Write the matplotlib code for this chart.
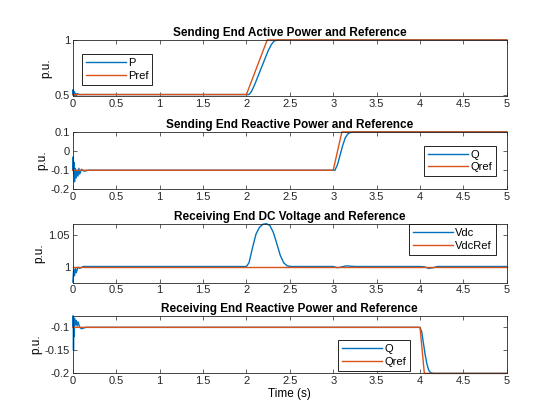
import matplotlib
matplotlib.use("Agg")
import matplotlib.pyplot as plt

BLUE = '#0072BD'
ORANGE = '#D95319'

# ---- panel 1: sending end active power ----
p_t = [0, 0.004, 0.008, 0.012, 0.018, 0.025, 0.035, 0.05, 0.08, 0.12,
       2.0, 2.03, 2.06, 2.1, 2.15, 2.2, 2.25, 2.29, 2.32, 2.36, 5.0]
p_v = [0.5, 0.545, 0.49, 0.53, 0.495, 0.515, 0.5, 0.508, 0.499, 0.5,
       0.5, 0.5, 0.53, 0.6, 0.7, 0.8, 0.9, 0.96, 0.99, 1.0, 1.0]
pref_t = [0, 2.0, 2.24, 5.0]
pref_v = [0.5, 0.5, 1.0, 1.0]

# ---- panel 2: sending end reactive power ----
q1_t = [0, 0.005, 0.01, 0.015, 0.02, 0.03, 0.04, 0.05, 0.06, 0.07, 0.08, 0.1,
        0.13, 0.18, 3.0, 3.02, 3.05, 3.08, 3.11, 3.14, 3.17, 3.2, 3.24, 5.0]
q1_v = [-0.1, -0.03, -0.12, -0.06, -0.16, -0.09, -0.14, -0.1, -0.13, -0.09, -0.12, -0.095,
        -0.105, -0.1, -0.1, -0.1, -0.07, -0.02, 0.03, 0.07, 0.09, 0.098, 0.1, 0.1]
q1ref_t = [0, 3.0, 3.1, 5.0]
q1ref_v = [-0.1, -0.1, 0.1, 0.1]

# ---- panel 3: receiving end DC voltage ----
vdc_t = [0, 0.01, 0.02, 0.03, 0.04, 0.06, 0.08, 0.12, 2.0, 2.03, 2.07, 2.11, 2.15,
         2.19, 2.23, 2.27, 2.31, 2.35, 2.39, 2.43, 2.47, 2.52, 3.0, 3.05, 3.1, 3.15,
         3.2, 3.25, 4.0, 4.05, 4.1, 4.15, 4.2, 5.0]
vdc_v = [0.975, 0.995, 0.985, 0.998, 0.99, 0.999, 0.997, 1.0, 1.0, 1.006, 1.03, 1.052, 1.063,
         1.068, 1.069, 1.066, 1.055, 1.037, 1.018, 1.006, 1.001, 1.0, 1.0, 0.998, 0.9995, 1.001,
         1.0005, 1.0, 1.0, 0.9995, 0.997, 0.998, 1.0, 1.0]
vdcref_t = [0, 5.0]
vdcref_v = [1.0, 1.0]

# ---- panel 4: receiving end reactive power ----
q2_t = [0, 0.004, 0.008, 0.012, 0.016, 0.02, 0.03, 0.04, 0.05, 0.06, 0.08, 0.1,
        0.15, 4.0, 4.02, 4.04, 4.06, 4.08, 4.1, 4.12, 4.15, 5.0]
q2_v = [-0.1, -0.075, -0.15, -0.085, -0.12, -0.08, -0.095, -0.085, -0.097, -0.088, -0.1, -0.103,
        -0.1, -0.1, -0.11, -0.135, -0.16, -0.18, -0.193, -0.198, -0.2, -0.2]
q2ref_t = [0, 4.0, 4.05, 5.0]
q2ref_v = [-0.1, -0.1, -0.2, -0.2]

titles = ['Sending End Active Power and Reference',
          'Sending End Reactive Power and Reference',
          'Receiving End DC Voltage and Reference',
          'Receiving End Reactive Power and Reference']

plt.rcParams['font.family'] = ['Liberation Sans', 'DejaVu Sans']
plt.rcParams['font.size'] = 8

fig = plt.figure(figsize=(5.6, 4.2), dpi=100)
boxes = [(0.130, 0.771, 0.775, 0.134),
         (0.130, 0.549, 0.775, 0.137),
         (0.130, 0.327, 0.775, 0.139),
         (0.130, 0.111, 0.775, 0.137)]
axs = [fig.add_axes(b) for b in boxes]

series = [((p_t, p_v, 'P'), (pref_t, pref_v, 'Pref')),
          ((q1_t, q1_v, 'Q'), (q1ref_t, q1ref_v, 'Qref')),
          ((vdc_t, vdc_v, 'Vdc'), (vdcref_t, vdcref_v, 'VdcRef')),
          ((q2_t, q2_v, 'Q'), (q2ref_t, q2ref_v, 'Qref'))]
ylims = [(0.485, 1.0), (-0.2, 0.1), (0.974, 1.068), (-0.2, -0.075)]
yticks = [[0.5, 1], [-0.2, -0.1, 0, 0.1], [1, 1.05], [-0.2, -0.15, -0.1]]
yticklabels = [['0.5', '1'], ['-0.2', '-0.1', '0', '0.1'], ['1', '1.05'],
               ['-0.2', '-0.15', '-0.1']]
# legend anchor (loc, x, y) in axes fractions
legs = [('upper left', 0.021, 0.75), ('upper right', 0.975, 0.76),
        ('upper right', 0.975, 1.0), ('upper right', 0.777, 0.58)]

for ax, (meas, ref), title, yl, yt, ytl, lg in zip(axs, series, titles, ylims,
                                                  yticks, yticklabels, legs):
    ax.plot(meas[0], meas[1], color=BLUE, lw=1.0, label=meas[2], clip_on=False)
    ax.plot(ref[0], ref[1], color=ORANGE, lw=1.0, label=ref[2], clip_on=False)
    ax.set_xlim(0, 5)
    ax.set_ylim(*yl)
    ax.set_xticks([0, 0.5, 1, 1.5, 2, 2.5, 3, 3.5, 4, 4.5, 5])
    ax.set_xticklabels(['0', '0.5', '1', '1.5', '2', '2.5', '3', '3.5', '4', '4.5', '5'])
    ax.set_yticks(yt)
    ax.set_yticklabels(ytl)
    ax.set_title(title, fontsize=8.5, fontweight='bold', pad=3)
    ax.set_ylabel('p.u.', labelpad=2, fontsize=8.5)
    ax.tick_params(direction='in', top=True, right=True, length=3, width=0.5,
                   colors='#262626', pad=2)
    for s in ax.spines.values():
        s.set_linewidth(0.6)
        s.set_color('#262626')
    leg = ax.legend(loc=lg[0], bbox_to_anchor=(lg[1], lg[2]), borderaxespad=0,
                    fancybox=False, framealpha=1, edgecolor='black',
                    handlelength=3.6, borderpad=0.35, labelspacing=0.25,
                    handletextpad=0.2, fontsize=8)
    leg.get_frame().set_linewidth(0.6)
    leg.set_zorder(5)

axs[-1].set_xlabel('Time (s)', labelpad=1, fontsize=8.5)
fig.savefig('out.png', dpi=100)
